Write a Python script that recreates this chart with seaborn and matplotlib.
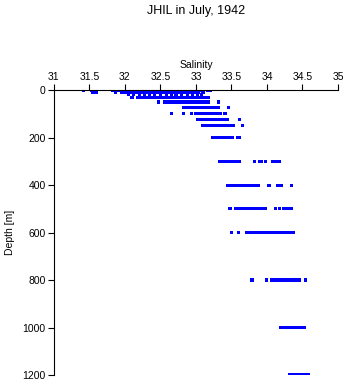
import matplotlib
matplotlib.use("Agg")
import matplotlib.pyplot as plt
import seaborn as sns
import pandas as pd

sns.set_theme(style="white")
plt.rcParams['font.family'] = ['Liberation Sans', 'DejaVu Sans']
plt.rcParams['text.color'] = 'black'
plt.rcParams['axes.labelcolor'] = 'black'
plt.rcParams['xtick.color'] = 'black'
plt.rcParams['ytick.color'] = 'black'

title = "JHIL in July, 1942"
x_label = "Salinity"
y_label = "Depth [m]"
x_ticks = [31, 31.5, 32, 32.5, 33, 33.5, 34, 34.5, 35]
x_tick_labels = ["31", "31.5", "32", "32.5", "33", "33.5", "34", "34.5", "35"]
y_ticks = [0, 200, 400, 600, 800, 1000, 1200]

sal_0 = [31.42, 31.53, 31.56, 31.59, 31.82, 31.85, 31.89, 31.93, 31.97, 32.01, 32.05, 32.09, 32.13,
         32.17, 32.21, 32.25, 32.29, 32.33, 32.37, 32.41, 32.45, 32.49, 32.53, 32.57, 32.61, 32.65,
         32.69, 32.73, 32.77, 32.81, 32.85, 32.89, 32.93, 32.97, 33.01, 33.05, 33.09, 33.16, 33.21]
sal_10 = [31.55, 31.60, 31.87, 31.95, 32.00, 32.04, 32.08, 32.12, 32.16, 32.20, 32.24, 32.28, 32.32,
          32.36, 32.40, 32.44, 32.48, 32.52, 32.56, 32.60, 32.64, 32.68, 32.72, 32.76, 32.80, 32.84,
          32.88, 32.92, 32.96, 33.00, 33.04, 33.10]
sal_20 = [32.05, 32.12, 32.20, 32.28, 32.35, 32.42, 32.50, 32.58, 32.66, 32.72, 32.80, 32.88, 32.95,
          33.02, 33.08]
sal_30 = [32.10, 32.18, 32.22, 32.26, 32.30, 32.34, 32.38, 32.42, 32.46, 32.50, 32.54, 32.58, 32.62,
          32.66, 32.70, 32.74, 32.78, 32.82, 32.86, 32.90, 32.94, 32.98, 33.02, 33.06, 33.10, 33.14, 33.18]
sal_50 = [32.47, 32.56, 32.60, 32.64, 32.68, 32.72, 32.76, 32.80, 32.84, 32.88, 32.92, 32.96, 33.00,
          33.04, 33.08, 33.12, 33.16, 33.18, 33.32]
sal_75 = [32.82, 32.86, 32.90, 32.94, 32.98, 33.02, 33.06, 33.10, 33.14, 33.18, 33.21, 33.24, 33.28,
          33.32, 33.46]
sal_100 = [32.66, 32.83, 32.94, 32.99, 33.03, 33.07, 33.11, 33.15, 33.19, 33.23, 33.27, 33.31, 33.35, 33.41]
sal_125 = [33.02, 33.06, 33.10, 33.14, 33.18, 33.22, 33.26, 33.30, 33.34, 33.38, 33.41, 33.44, 33.62]
sal_150 = [33.09, 33.13, 33.17, 33.21, 33.25, 33.29, 33.33, 33.37, 33.41, 33.46, 33.50, 33.53, 33.66]
sal_200 = [33.24, 33.28, 33.32, 33.36, 33.40, 33.44, 33.48, 33.51, 33.58, 33.61]
sal_300 = [33.33, 33.37, 33.41, 33.45, 33.49, 33.53, 33.57, 33.61, 33.82, 33.89, 33.93, 33.98, 34.08,
           34.12, 34.17]
sal_400 = [33.44, 33.48, 33.52, 33.56, 33.60, 33.64, 33.68, 33.71, 33.75, 33.79, 33.84, 33.88, 34.03,
           34.15, 34.18, 34.21, 34.35]
sal_500 = [33.48, 33.56, 33.60, 33.64, 33.68, 33.72, 33.76, 33.80, 33.84, 33.88, 33.92, 33.96, 33.98,
           34.12, 34.18, 34.24, 34.28, 34.32, 34.35]
sal_600 = [33.50, 33.60, 33.71, 33.75, 33.79, 33.83, 33.87, 33.91, 33.95, 33.99, 34.03, 34.07, 34.11,
           34.15, 34.19, 34.22, 34.25, 34.29, 34.33, 34.37]
sal_800 = [33.79, 34.00, 34.06, 34.10, 34.13, 34.16, 34.18, 34.22, 34.26, 34.30, 34.34, 34.38, 34.42,
           34.46, 34.54]
sal_1000 = [34.19, 34.23, 34.27, 34.31, 34.35, 34.39, 34.43, 34.47, 34.51, 34.53]
sal_1200 = [34.32, 34.36, 34.40, 34.44, 34.48, 34.52, 34.56, 34.59]

depths = [0, 10, 20, 30, 50, 75, 100, 125, 150, 200, 300, 400, 500, 600, 800, 1000, 1200]
salinities = [sal_0, sal_10, sal_20, sal_30, sal_50, sal_75, sal_100, sal_125, sal_150, sal_200,
              sal_300, sal_400, sal_500, sal_600, sal_800, sal_1000, sal_1200]

rows = []
for d, s_list in zip(depths, salinities):
    for s in s_list:
        rows.append({"Salinity": s, "Depth": d})
df = pd.DataFrame(rows)

fig = plt.figure(figsize=(3.48, 3.84), dpi=100)
ax = fig.add_axes([0.155, 0.0234, 0.816, 0.742])
sns.scatterplot(data=df, x="Salinity", y="Depth", ax=ax, color="#0000FF", marker="s",
                s=5, linewidth=0, edgecolor="none", legend=False)

ax.set_xlim(31, 35)
ax.set_ylim(1200, 0)
ax.xaxis.tick_top()
ax.xaxis.set_label_position("top")
ax.set_xticks(x_ticks)
ax.set_xticklabels(x_tick_labels)
ax.set_yticks(y_ticks)
ax.set_xlabel(x_label, fontsize=7.5, labelpad=3)
ax.set_ylabel(y_label, fontsize=7.5, labelpad=5)
ax.tick_params(axis="both", direction="out", length=4, width=0.8, colors="black",
               labelsize=7.5, pad=2, left=True, top=True, bottom=False, right=False)
for side in ["right", "bottom"]:
    ax.spines[side].set_visible(False)
for side in ["left", "top"]:
    ax.spines[side].set_visible(True)
    ax.spines[side].set_color("black")
    ax.spines[side].set_linewidth(0.8)
ax.grid(False)
ax.set_facecolor("white")

fig.text(0.563, 1 - 11 / 384, title, ha="center", va="center", fontsize=9, color="black")

fig.savefig("out.png", dpi=100, facecolor="white")
